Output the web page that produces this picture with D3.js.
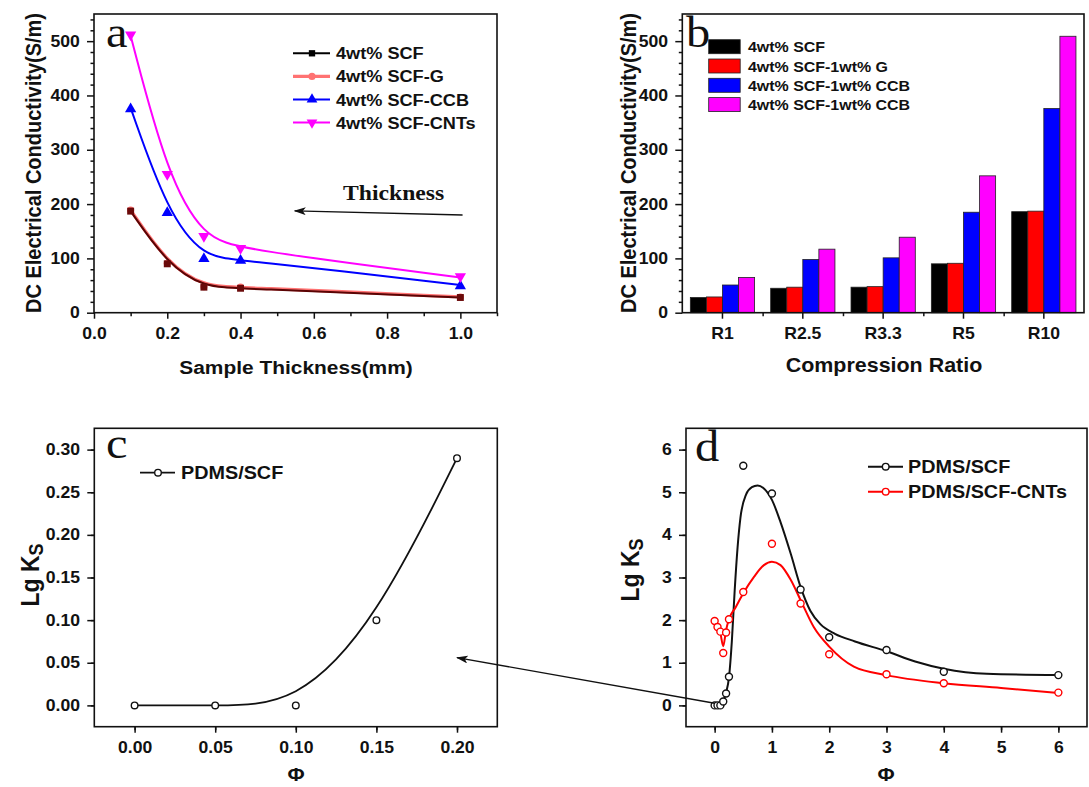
<!DOCTYPE html>
<html>
<head>
<meta charset="utf-8">
<script src="https://cdn.jsdelivr.net/npm/d3@7"></script>
<style>
  html, body { margin: 0; padding: 0; background: #fff; }
  svg { display: block; }
  text { font-family: 'Liberation Sans', Arial, sans-serif; font-weight: bold; fill: #111; }
</style>
</head>
<body>
<svg id="chart" width="1089" height="787"></svg>
<script>
// ---- panel a : conductivity vs sample thickness
const thickness = [0.1, 0.2, 0.3, 0.4, 1.0]
const condSCF = [187, 90, 47, 45, 28]
const condG = [189, 91, 48, 47, 29]
const condCCB = [377, 186, 101, 98, 51]
const condCNT = [510, 253, 139, 117, 65]
const legendA = ['4wt% SCF', '4wt% SCF-G', '4wt% SCF-CCB', '4wt% SCF-CNTs']
const xTicksA = [0, 0.2, 0.4, 0.6, 0.8, 1.0]
const yTicksAB = [0, 100, 200, 300, 400, 500]

// ---- panel b : conductivity vs compression ratio
const ratios = ['R1', 'R2.5', 'R3.3', 'R5', 'R10']
const barSCF = [28, 45, 47, 90, 186]
const barG = [29, 47, 48, 91, 187]
const barCCB = [51, 98, 101, 185, 376]
const barCNT = [65, 117, 139, 252, 509]
const legendB = ['4wt% SCF', '4wt% SCF-1wt% G', '4wt% SCF-1wt% CCB', '4wt% SCF-1wt% CCB']

// ---- panel c : Lg Ks at low phi
const phiC = [0, 0.05, 0.1, 0.15, 0.2]
const lgC = [0, 0, 0, 0.1, 0.29]
const xTicksC = [0, 0.05, 0.1, 0.15, 0.2]
const yTicksC = [0, 0.05, 0.1, 0.15, 0.2, 0.25, 0.3]

// ---- panel d : Lg Ks over the whole range
const phiD = [0, 0.05, 0.1, 0.15, 0.2, 0.25, 0.5, 1, 1.5, 2, 3, 4, 6]
const lgSCF = [0, 0, 0, 0.09, 0.28, 0.67, 5.62, 4.97, 2.72, 1.6, 1.3, 0.79, 0.71]
const lgCNT = [1.98, 1.84, 1.73, 1.23, 1.71, 2.02, 2.66, 3.79, 2.39, 1.2, 0.73, 0.52, 0.3]
// fitted curves
const fitSCFx = [0, 0.1, 0.15, 0.2, 0.25, 0.3, 0.35, 0.4, 0.45, 0.55, 0.65, 0.75, 0.85, 1.0, 1.15, 1.33, 1.5, 1.67, 1.85, 2.1, 2.45, 3.0, 3.5, 4.0, 4.75, 6.0]
const fitSCFy = [0, 0.01, 0.1, 0.3, 0.65, 1.5, 2.7, 3.7, 4.4, 4.95, 5.12, 5.16, 5.1, 4.82, 4.3, 3.55, 2.78, 2.22, 1.9, 1.68, 1.5, 1.27, 1.03, 0.86, 0.74, 0.71]
const fitCNTx = [0, 0.05, 0.1, 0.15, 0.2, 0.25, 0.37, 0.5, 0.69, 0.86, 1.0, 1.15, 1.33, 1.5, 1.73, 2.0, 2.43, 3.0, 4.0, 5.0, 6.0]
const fitCNTy = [1.98, 1.85, 1.69, 1.39, 1.77, 2.02, 2.31, 2.63, 3.02, 3.29, 3.37, 3.29, 2.94, 2.47, 1.84, 1.38, 0.91, 0.71, 0.52, 0.41, 0.29]
const legendD = ['PDMS/SCF', 'PDMS/SCF-CNTs']
const ticksD = [0, 1, 2, 3, 4, 5, 6]

const SX = 1.1 // the picture is a little wider than tall, text is stretched too
const svg = d3.select('#chart')

// arrow head
svg.append('defs').append('marker')
    .attr('id', 'head')
    .attr('markerUnits', 'userSpaceOnUse')
    .attr('markerWidth', 12).attr('markerHeight', 8)
    .attr('refX', 11).attr('refY', 4)
    .attr('orient', 'auto')
    .append('path')
    .attr('d', 'M0,0L12,4L0,8L3,4z')
    .attr('fill', '#111')

// text helper
function label(g, x, y, s, size, o = {}) {
    const t = g.append('text')
        .attr('transform', `translate(${x},${y}) scale(${SX},1)` + (o.rotate ? ` rotate(${o.rotate})` : ''))
        .attr('text-anchor', o.anchor || 'start')
        .style('font-size', size + 'px')
        .text(s)
    if (o.serif) {
        t.style('font-family', "'Liberation Serif', 'Times New Roman', serif").style('font-weight', o.weight || 'normal')
    }
    return t
}

// axes: minor + major ticks, then a closed frame
function drawAxes(g, x, y, o) {
    const [yb, yt] = y.range()
    const [xl, xr] = x.range()
    g.append('g').attr('transform', `translate(0,${yb})`)
        .call(d3.axisBottom(o.xMinorScale || x).tickValues(o.xMinor).tickSize(3.5).tickFormat(''))
    g.append('g').attr('transform', `translate(${xl},0)`)
        .call(d3.axisLeft(y).tickValues(o.yMinor).tickSize(3.5).tickFormat(''))
    g.append('g').attr('transform', `translate(0,${yb})`)
        .call(d3.axisBottom(x).tickValues(o.xTicks).tickSize(6).tickPadding(9).tickFormat(o.xFormat))
    g.append('g').attr('transform', `translate(${xl},0)`)
        .call(d3.axisLeft(y).tickValues(o.yTicks).tickSize(7).tickPadding(6).tickFormat(o.yFormat))
    g.selectAll('.domain').remove()
    g.selectAll('.tick line').attr('stroke', '#111').attr('stroke-width', 1.5)
    g.selectAll('.tick text').attr('transform', `scale(${SX},1)`).style('font-size', '16px')
    g.append('rect')
        .attr('x', xl).attr('y', yt)
        .attr('width', xr - xl).attr('height', yb - yt)
        .attr('fill', 'none').attr('stroke', '#111').attr('stroke-width', 1.6)
}

const minorRange = (a, b, step, skip) => d3.range(a, b + step / 2, step).filter((v, i) => i % skip != 0)

// ================= panel a
const gA = svg.append('g')
const xA = d3.scaleLinear().domain([0, 1.1]).range([94, 497])
const yA = d3.scaleLinear().domain([0, 550]).range([312.7, 14])
drawAxes(gA, xA, yA, {
    xTicks: xTicksA, xMinor: minorRange(0, 1.1, 0.1, 2), xFormat: d3.format('.1f'),
    yTicks: yTicksAB, yMinor: minorRange(0, 540, 20, 5), yFormat: d3.format('d')
})

const styleA = [
    { values: condG, color: '#ff7272', lineColor: '#ff7272', w: 3.2, sym: d3.symbolCircle, size: 40, rot: 0 },
    { values: condSCF, color: '#6a0a0a', lineColor: '#5a0404', w: 2, sym: d3.symbolSquare, size: 48, rot: 0 },
    { values: condCCB, color: '#0000ff', lineColor: '#0000ff', w: 2, sym: d3.symbolTriangle, size: 55, rot: 0 },
    { values: condCNT, color: '#ff00ff', lineColor: '#ff00ff', w: 2, sym: d3.symbolTriangle, size: 55, rot: 180 }
]
const lineA = d3.line().curve(d3.curveBasis).x((d) => xA(d[0])).y((d) => yA(d[1]))
styleA.forEach((s) => {
    const pts = thickness.map((t, i) => [t, s.values[i]])
    gA.append('path').attr('d', lineA(pts)).attr('fill', 'none').attr('stroke', s.lineColor).attr('stroke-width', s.w)
    gA.selectAll(null).data(pts).enter().append('path')
        .attr('d', d3.symbol(s.sym, s.size))
        .attr('transform', (d) => `translate(${xA(d[0])},${yA(d[1]) + (s.sym == d3.symbolTriangle ? (s.rot ? -1 : 1) : 0)}) rotate(${s.rot})`)
        .attr('fill', s.color)
})

// legend a
const legStyleA = [
    { color: '#000', sym: d3.symbolSquare, size: 40, rot: 0 },
    { color: '#ff7272', sym: d3.symbolCircle, size: 40, rot: 0 },
    { color: '#0000ff', sym: d3.symbolTriangle, size: 50, rot: 0 },
    { color: '#ff00ff', sym: d3.symbolTriangle, size: 50, rot: 180 }
]
legendA.forEach((name, i) => {
    const y = 53.3 + i * 23.1
    const s = legStyleA[i]
    gA.append('line').attr('x1', 293).attr('x2', 330).attr('y1', y).attr('y2', y)
        .attr('stroke', s.color).attr('stroke-width', i == 1 ? 3.2 : 2)
    gA.append('path').attr('d', d3.symbol(s.sym, s.size)).attr('transform', `translate(312,${y}) rotate(${s.rot})`).attr('fill', s.color)
    label(gA, 336, y + 6, name, 16.5)
})

// thickness arrow
gA.append('line')
    .attr('x1', xA(1.006)).attr('y1', yA(180))
    .attr('x2', xA(0.548)).attr('y2', yA(187.5))
    .attr('stroke', '#111').attr('stroke-width', 1.4)
    .attr('marker-end', 'url(#head)')
label(gA, 343, 200, 'Thickness', 21.5, { serif: true, weight: 'bold' })
label(gA, 106, 47, 'a', 44, { serif: true })
label(gA, 296, 374, 'Sample Thickness(mm)', 19, { anchor: 'middle' })
label(gA, 41, 163, 'DC Electrical Conductivity(S/m)', 20, { anchor: 'middle', rotate: -90 })

// ================= panel b
const gB = svg.append('g')
const xB = d3.scaleBand().domain(ratios).range([682.3, 1084]).padding(0)
const yB = d3.scaleLinear().domain([0, 550]).range([312.7, 14])
const edgeB = d3.scaleLinear().domain([0, ratios.length]).range(xB.range())
const barKeys = [barSCF, barG, barCCB, barCNT]
const barColors = ['#000000', '#ff0000', '#0000ff', '#ff00ff']
const xInner = d3.scaleBand().domain(d3.range(barKeys.length))
    .range([xB.bandwidth() * 0.1, xB.bandwidth() * 0.9])

barKeys.forEach((vals, k) => {
    gB.selectAll(null).data(ratios).enter().append('rect')
        .attr('x', (d) => xB(d) + xInner(k))
        .attr('y', (d, i) => yB(vals[i]))
        .attr('width', xInner.bandwidth())
        .attr('height', (d, i) => yB(0) - yB(vals[i]))
        .attr('fill', barColors[k])
        .attr('stroke', '#222').attr('stroke-width', 0.8)
})
drawAxes(gB, xB, yB, {
    xTicks: ratios, xMinor: d3.range(1, ratios.length), xMinorScale: edgeB,
    yTicks: yTicksAB, yMinor: minorRange(0, 540, 20, 5), yFormat: d3.format('d')
})

legendB.forEach((name, i) => {
    const y = 46.7 + i * 19.3
    gB.append('rect').attr('x', 708.7).attr('y', y - 7).attr('width', 31.5).attr('height', 14)
        .attr('fill', barColors[i]).attr('stroke', '#222').attr('stroke-width', 0.8)
    label(gB, 748, y + 5.5, name, 14.5)
})
label(gB, 686, 47, 'b', 44, { serif: true })
label(gB, 884, 372, 'Compression Ratio', 19.5, { anchor: 'middle' })
label(gB, 636, 163, 'DC Electrical Conductivity(S/m)', 20, { anchor: 'middle', rotate: -90 })

// ================= panel c
const gC = svg.append('g')
const xC = d3.scaleLinear().domain([-0.025, 0.225]).range([94.3, 497.3])
const yC = d3.scaleLinear().domain([-0.025, 0.325]).range([726.7, 428.3])
drawAxes(gC, xC, yC, {
    xTicks: xTicksC, xMinor: minorRange(-0.025, 0.225, 0.025, 2), xFormat: d3.format('.2f'),
    yTicks: yTicksC, yMinor: minorRange(-0.025, 0.325, 0.025, 2), yFormat: d3.format('.2f')
})
const ptsC = phiC.map((p, i) => [p, lgC[i]])
gC.append('path')
    .attr('d', d3.line().curve(d3.curveBasis).x((d) => xC(d[0])).y((d) => yC(d[1]))(ptsC))
    .attr('fill', 'none').attr('stroke', '#111').attr('stroke-width', 1.8)
gC.selectAll(null).data(ptsC).enter().append('circle')
    .attr('cx', (d) => xC(d[0])).attr('cy', (d) => yC(d[1])).attr('r', 3.3)
    .attr('fill', '#fff').attr('stroke', '#111').attr('stroke-width', 1.4)

gC.append('line').attr('x1', 140).attr('x2', 175).attr('y1', 472.7).attr('y2', 472.7).attr('stroke', '#111').attr('stroke-width', 1.8)
gC.append('circle').attr('cx', 158).attr('cy', 472.7).attr('r', 3.3).attr('fill', '#fff').attr('stroke', '#111').attr('stroke-width', 1.4)
label(gC, 181, 479, 'PDMS/SCF', 18)
label(gC, 106, 458, 'c', 44, { serif: true })
label(gC, 296, 781, 'Φ', 19, { anchor: 'middle' })
const lgTitleC = label(gC, 39, 575, 'Lg K', 23, { anchor: 'middle', rotate: -90 })
lgTitleC.append('tspan').attr('dy', 4).style('font-size', '18px').text('S')

// ================= panel d
const gD = svg.append('g')
const xD = d3.scaleLinear().domain([-0.5, 6.5]).range([686, 1087])
const yD = d3.scaleLinear().domain([-0.5, 6.5]).range([726.7, 428.3])
drawAxes(gD, xD, yD, {
    xTicks: ticksD, xMinor: minorRange(-0.5, 6.5, 0.5, 2), xFormat: d3.format('d'),
    yTicks: ticksD, yMinor: minorRange(-0.5, 6.5, 0.5, 2), yFormat: d3.format('d')
})
const lineD = d3.line().curve(d3.curveMonotoneX).x((d) => xD(d[0])).y((d) => yD(d[1]))
const seriesD = [
    { fx: fitSCFx, fy: fitSCFy, py: lgSCF, color: '#111' },
    { fx: fitCNTx, fy: fitCNTy, py: lgCNT, color: '#ff0000' }
]
seriesD.forEach((s) => {
    gD.append('path')
        .attr('d', lineD(s.fx.map((v, i) => [v, s.fy[i]])))
        .attr('fill', 'none').attr('stroke', s.color).attr('stroke-width', 2)
})
seriesD.forEach((s) => {
    gD.selectAll(null).data(phiD.map((p, i) => [p, s.py[i]])).enter().append('circle')
        .attr('cx', (d) => xD(d[0])).attr('cy', (d) => yD(d[1])).attr('r', 3.5)
        .attr('fill', '#fff').attr('stroke', s.color).attr('stroke-width', 1.4)
})
legendD.forEach((name, i) => {
    const y = 466.7 + i * 25
    const c = seriesD[i].color
    gD.append('line').attr('x1', 868).attr('x2', 903).attr('y1', y).attr('y2', y).attr('stroke', c).attr('stroke-width', 2)
    gD.append('circle').attr('cx', 885.7).attr('cy', y).attr('r', 3.3).attr('fill', '#fff').attr('stroke', c).attr('stroke-width', 1.4)
    label(gD, 908, y + 6.5, name, 18)
})
label(gD, 695, 461, 'd', 44, { serif: true })
label(gD, 886, 781, 'Φ', 19, { anchor: 'middle' })
const lgTitleD = label(gD, 639, 570, 'Lg K', 23, { anchor: 'middle', rotate: -90 })
lgTitleD.append('tspan').attr('dy', 4).style('font-size', '18px').text('S')

// arrow from the low-phi part of d back to c
svg.append('line')
    .attr('x1', xD(0)).attr('y1', yD(0.05))
    .attr('x2', xC(0.2)).attr('y2', yC(0.056))
    .attr('stroke', '#111').attr('stroke-width', 1.3)
    .attr('marker-end', 'url(#head)')
</script>
</body>
</html>
